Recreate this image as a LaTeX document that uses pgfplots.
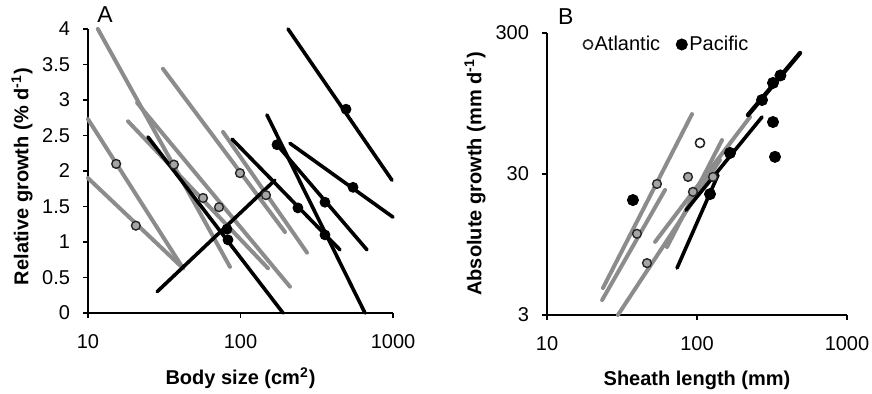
\documentclass[border=0pt]{standalone}
\usepackage{pgfplots}
\pgfplotsset{compat=1.18}
\usepackage{fontspec}
\setmainfont{Liberation Sans}
\definecolor{lg}{RGB}{140,140,140}
\definecolor{cf}{RGB}{165,165,165}
\pgfplotsset{
 gl/.style={lg, line width=2pt, line cap=round, mark=none},
 bl/.style={black, line width=1.8pt, line cap=round, mark=none},
 gc/.style={only marks, mark=*, mark size=2.2pt, mark options={fill=cf, draw=black!85, line width=0.7pt}},
 wc/.style={only marks, mark=*, mark size=2.3pt, mark options={fill=white, draw=black!85, line width=0.8pt}},
 bd/.style={only marks, mark=*, mark size=2.5pt, black},
 bdb/.style={only marks, mark=*, mark size=2.8pt, black},
}
\begin{document}
\begin{tikzpicture}
\useasboundingbox (0,0) rectangle (436pt,197pt);
\begin{axis}[xmode=log, scale only axis, axis lines=left, axis line style={-, line width=0.8pt},
  tick align=outside, major tick length=2.5pt, tick style={black, line width=0.8pt},
  xmin=10, xmax=1000, xtick={10,100,1000}, xticklabels={10,100,1000},
  xminorticks=false, yminorticks=false,
  font=\fontsize{10}{12}\selectfont,
  xticklabel style={yshift=-4.5pt}, yticklabel style={xshift=-3pt},
  /pgf/number format/assume math mode=true,
  clip=false,
  at={(44pt,40.5pt)}, anchor=south west,
  width=152.5pt, height=142pt,
  ymin=0, ymax=4, ytick={0,0.5,1,1.5,2,2.5,3,3.5,4},
  yticklabels={0,0.5,1,1.5,2,2.5,3,3.5,4},
  xlabel={Body size (cm\textsuperscript{2})},
  ylabel={Relative growth (\% d\textsuperscript{-1})},
  every axis x label/.style={at={(rel axis cs:0.5,0)}, yshift=-32.5pt, anchor=center, font=\fontsize{10}{12}\selectfont\bfseries},
  every axis y label/.style={at={(rel axis cs:0,0.48)}, xshift=-33pt, rotate=90, anchor=center, font=\fontsize{10}{12}\selectfont\bfseries},
]
\addplot[gl] coordinates {(10,2.73) (42,0.63)};
\addplot[gl] coordinates {(10,1.90) (42,0.63)};
\addplot[gl] coordinates {(11.6,4.0) (85.3,0.65)};
\addplot[gl] coordinates {(31.0,3.44) (195.8,1.14)};
\addplot[gl] coordinates {(76.8,2.55) (273,0.85)};
\addplot[gl] coordinates {(18.3,2.70) (151.5,0.63)};
\addplot[gl] coordinates {(21.0,2.96) (211,0.37)};
\addplot[bl] coordinates {(28.4,0.30) (168,1.87)};
\addplot[bl] coordinates {(24.7,2.48) (190,0)};
\addplot[bl] coordinates {(149,2.79) (655,0)};
\addplot[bl] coordinates {(88,2.45) (449,0.89)};
\addplot[bl] coordinates {(211,2.39) (1000,1.35)};
\addplot[bl] coordinates {(173.5,2.37) (675,0.89)};
\addplot[bl] coordinates {(205,4.0) (985,1.87)};
\addplot[gc] coordinates {(15.3,2.10) (20.6,1.23) (36.6,2.09) (56.8,1.62) (72.3,1.49) (99.2,1.97) (146.9,1.66)};
\addplot[bd] coordinates {(81.5,1.18) (82.8,1.03) (238,1.48) (358,1.10) (547,1.77) (492,2.87) (358,1.56) (173.5,2.37)};
\node[font=\fontsize{11.5}{12}\selectfont] at (rel axis cs:0.056,1.05) {A};
\end{axis}
\begin{axis}[xmode=log, ymode=log, scale only axis, axis lines=left, axis line style={-, line width=0.8pt},
  tick align=outside, major tick length=2.5pt, tick style={black, line width=0.8pt},
  xmin=10, xmax=1000, xtick={10,100,1000}, xticklabels={10,100,1000},
  xminorticks=false, yminorticks=false,
  font=\fontsize{10}{12}\selectfont,
  xticklabel style={yshift=-4.5pt}, yticklabel style={xshift=-3pt},
  /pgf/number format/assume math mode=true,
  clip=false,
  at={(273.5pt,39.5pt)}, anchor=south west,
  width=150pt, height=141pt,
  ymin=3, ymax=300, ytick={3,30,300}, yticklabels={3,30,300},
  xlabel={Sheath length (mm)},
  ylabel={Absolute growth (mm d\textsuperscript{-1})},
  every axis x label/.style={at={(rel axis cs:0.5,0)}, yshift=-32.5pt, anchor=center, font=\fontsize{10}{12}\selectfont\bfseries},
  every axis y label/.style={at={(rel axis cs:0,0.5)}, xshift=-36pt, rotate=90, anchor=center, font=\fontsize{10}{12}\selectfont\bfseries},
  legend style={draw=none, fill=none, at={(rel axis cs:0.1,1.02)}, anchor=north west,
    legend columns=2, font=\fontsize{10}{12}\selectfont,
    /tikz/every even column/.append style={column sep=7pt},
    legend image code/.code={\draw[#1] plot coordinates {(0.1cm,0cm)};},
    nodes={inner xsep=1pt}},
  legend cell align=left,
]
\addlegendimage{wc}
\addlegendentry{Atlantic}
\addlegendimage{bdb}
\addlegendentry{Pacific}
\addplot[gl, forget plot] coordinates {(92.6,79.8) (23.6,4.66)};
\addplot[gl, forget plot] coordinates {(61.2,23.1) (23.3,3.83)};
\addplot[gl, forget plot] coordinates {(142.3,37.7) (29.7,3.0)};
\addplot[gl, forget plot] coordinates {(146.8,52.2) (63.1,9.1)};
\addplot[gl, forget plot] coordinates {(225.6,76.1) (52.5,9.9)};
\addplot[bl, line width=2.2pt, forget plot] coordinates {(218.8,78.6) (486.3,216.3)};
\addplot[bl, forget plot] coordinates {(271.3,76.1) (84.5,16.6)};
\addplot[bl, forget plot] coordinates {(73.6,6.46) (138.0,29.5)};
\addplot[gc, forget plot] coordinates {(39.8,11.3) (46.4,7.0) (54.1,25.5) (87.1,28.6) (94.0,22.4) (127.9,28.6)};
\addplot[wc, forget plot] coordinates {(104.7,49.8)};
\addplot[bdb, forget plot] coordinates {(271.3,100.4) (321.1,132.7) (360,150) (166.0,42.3) (122.1,21.6) (37.4,19.6) (321.1,70.1) (331.1,39.7)};
\node[font=\fontsize{11.5}{12}\selectfont] at (rel axis cs:0.063,1.057) {B};
\end{axis}
\end{tikzpicture}
\end{document}
